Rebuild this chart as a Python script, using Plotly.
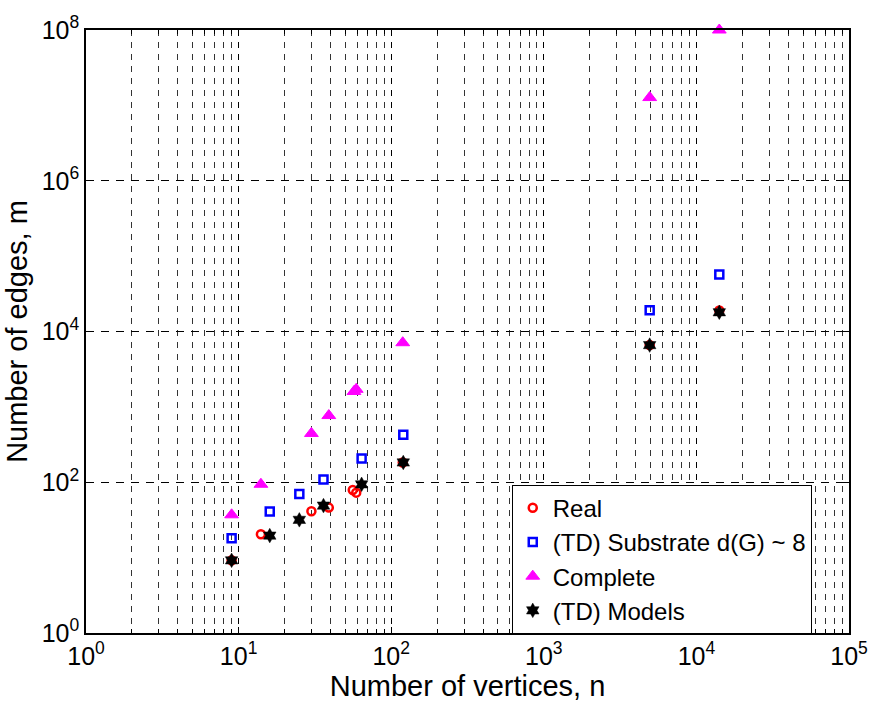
import plotly.graph_objects as go

# Graph sizes: vertices (n) and edges (m) for each family of networks
real_n = [9, 14, 30, 39, 56, 59, 119, 4941, 14130]
real_m = [9.2, 20.4, 41.2, 46.1, 79, 72.8, 183, 6600, 19000]

substrate_n = [9, 16, 25, 36, 64, 120, 4941, 14130]
substrate_m = [18.1, 40.8, 70, 109, 207, 427, 19200, 56900]

complete_n = [9, 14, 30, 39, 57, 59, 119, 4941, 14130]
complete_m = [37, 94, 444, 767, 1600, 1711, 7100, 1.27e7, 1.0e8]

models_n = [9, 16, 25, 36, 64, 120, 4941, 14130]
models_m = [9.2, 19.6, 31.7, 49, 93.8, 183, 6600, 18000]

x_ticks = [1, 10, 100, 1000, 10000, 100000]
x_labels = ["10<sup>0</sup>", "10<sup>1</sup>", "10<sup>2</sup>", "10<sup>3</sup>",
            "10<sup>4</sup>", "10<sup>5</sup>"]
y_ticks = [1, 1e2, 1e4, 1e6, 1e8]
y_labels = ["10<sup>0</sup>", "10<sup>2</sup>", "10<sup>4</sup>", "10<sup>6</sup>",
            "10<sup>8</sup>"]
x_minor = [k * 10 ** d for d in range(5) for k in range(2, 10)]

FONT = "Liberation Sans, Arial, sans-serif"

fig = go.Figure()
fig.add_trace(go.Scatter(
    x=real_n, y=real_m, mode="markers", name="Real",
    marker=dict(symbol="circle-open", size=8, color="#ff0000",
                line=dict(width=2.5, color="#ff0000")),
    cliponaxis=False))
fig.add_trace(go.Scatter(
    x=substrate_n, y=substrate_m, mode="markers", name="(TD) Substrate d(G) ~ 8",
    marker=dict(symbol="square-open", size=8, color="#0000ff",
                line=dict(width=2.5, color="#0000ff")),
    cliponaxis=False))
fig.add_trace(go.Scatter(
    x=complete_n, y=complete_m, mode="markers", name="Complete",
    marker=dict(symbol="triangle-up", size=12, color="#ff00ff",
                line=dict(width=1, color="#ff00ff")),
    cliponaxis=False))
fig.add_trace(go.Scatter(
    x=models_n, y=models_m, mode="markers", name="(TD) Models",
    marker=dict(symbol="hexagram", size=11, color="#000000",
                line=dict(width=0.5, color="#000000")),
    cliponaxis=False))

axis_common = dict(
    showline=True, linecolor="black", linewidth=1.5, mirror="ticks",
    ticks="inside", ticklen=6, tickcolor="black", tickwidth=1,
    tickfont=dict(family=FONT, size=25, color="black"),
    gridcolor="#000000", gridwidth=1,
    zeroline=False,
)

fig.update_xaxes(
    type="log", range=[0, 5], tickmode="array", tickvals=x_ticks, ticktext=x_labels,
    showgrid=True, griddash="6px,6px",
    minor=dict(tickmode="array", tickvals=x_minor, ticks="inside", ticklen=4,
               tickcolor="black", showgrid=True, gridcolor="#333333",
               gridwidth=1, griddash="6px,6px"),
    title=dict(text="Number of vertices, n", font=dict(family=FONT, size=29, color="black"),
               standoff=2),
    **axis_common)
fig.update_yaxes(
    type="log", range=[0, 8], tickmode="array", tickvals=y_ticks, ticktext=y_labels,
    showgrid=True, griddash="8px,7px",
    title=dict(text="Number of edges, m", font=dict(family=FONT, size=29, color="black"),
               standoff=6),
    **axis_common)

fig.update_layout(
    width=880, height=704,
    margin=dict(l=86, r=20, t=28, b=71),
    plot_bgcolor="white", paper_bgcolor="white",
    font=dict(family=FONT, color="black"),
    legend=dict(x=0.558, y=0.246, xanchor="left", yanchor="top",
                bgcolor="white", bordercolor="black", borderwidth=1,
                font=dict(family=FONT, size=24, color="black"),
                itemsizing="trace", tracegroupgap=0),
)

fig.write_html("out.html")
